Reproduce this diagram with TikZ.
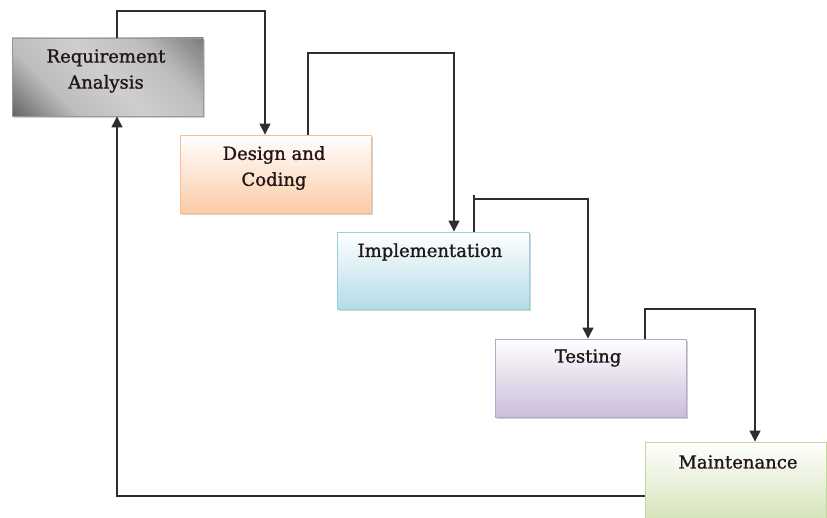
\documentclass[tikz,border=0pt]{standalone}
\usepackage{fontspec}
\setmainfont{DejaVu Serif}
\newfontfamily\lblfont{DejaVu Serif}[BoldFont=DejaVu Serif, BoldFeatures={FakeBold=1.2}]
\usetikzlibrary{arrows.meta,shadows}
\definecolor{linec}{HTML}{2E2E2E}
\definecolor{txtc}{HTML}{221616}
\definecolor{orangeB}{HTML}{FBCBA6}
\definecolor{orangeD}{HTML}{F6BE95}
\definecolor{blueB}{HTML}{B4DCE7}
\definecolor{blueD}{HTML}{9CCFDF}
\definecolor{purpB}{HTML}{CBBED9}
\definecolor{purpD}{HTML}{B7A6CC}
\definecolor{greenB}{HTML}{D6E4BA}
\definecolor{greenD}{HTML}{C2D69A}
\pgfdeclareverticalshading{diagband}{100bp}{color(0bp)=(black!72); color(14bp)=(black!62); color(32bp)=(black!26); color(50bp)=(black!19); color(68bp)=(black!26); color(86bp)=(black!52); color(100bp)=(black!58)}
\begin{document}
\begin{tikzpicture}[x=1pt,y=-1pt,
  box/.style={rectangle, line width=0.9pt, inner sep=0pt,
    drop shadow={shadow xshift=1.6pt, shadow yshift=-1.8pt, opacity=0.4, fill=black!45}},
  lbl/.style={font=\lblfont\bfseries\fontsize{18}{26}\selectfont, text=txtc, align=center, inner sep=0pt},
  conn/.style={draw=linec, line width=1.3pt},
  arr/.style={conn, -{Triangle[width=11pt,length=11pt]}}]
\useasboundingbox[fill=white] (0,0) rectangle (827,518);

\node[box, draw=black!40, shading=diagband, shading angle=-45,
      minimum width=191pt, minimum height=78pt] (b1) at (107.5,77) {};
\node[box, draw=orangeD, top color=white, bottom color=orangeB,
      minimum width=191pt, minimum height=78pt] (b2) at (275.5,174) {};
\node[box, draw=blueD, top color=white, bottom color=blueB,
      minimum width=192pt, minimum height=77pt] (b3) at (433,270.5) {};
\node[box, draw=purpD, top color=white, bottom color=purpB,
      minimum width=191pt, minimum height=78pt] (b4) at (590.5,378) {};
\node[box, draw=greenD, top color=white, bottom color=greenB,
      minimum width=181pt, minimum height=76pt] (b5) at (735.5,480) {};

\node[lbl] (t1) at (106,71) {Requirement\\Analysis};
\node[lbl] (t2) at (274,168) {Design and\\Coding};
\node[lbl] (t3) at (430,252) {Implementation};
\node[lbl] (t4) at (588,358) {Testing};
\node[lbl] (t5) at (738,462) {Maintenance};

\coordinate (k1) at (117,11);
\coordinate (k2) at (265,11);
\coordinate (k3) at (308,53);
\coordinate (k4) at (454,53);
\coordinate (k5a) at (474,195);
\coordinate (k5) at (474,199);
\coordinate (k6) at (588,199);
\coordinate (k7) at (645,309);
\coordinate (k8) at (755,309);
\coordinate (k9) at (117,496);

\draw[arr] (b1.north -| k1) -- (k1) -- (k2) -- (b2.north -| k2);
\draw[arr] (b2.north -| k3) -- (k3) -- (k4) -- (b3.north -| k4);
\draw[conn] (b3.north -| k5) -- (k5a);
\draw[arr] (k5) -- (k6) -- (b4.north -| k6);
\draw[arr] (b4.north -| k7) -- (k7) -- (k8) -- (b5.north -| k8);
\draw[arr] (b5.west |- k9) -- (k9) -- (b1.south -| k9);
\end{tikzpicture}
\end{document}
